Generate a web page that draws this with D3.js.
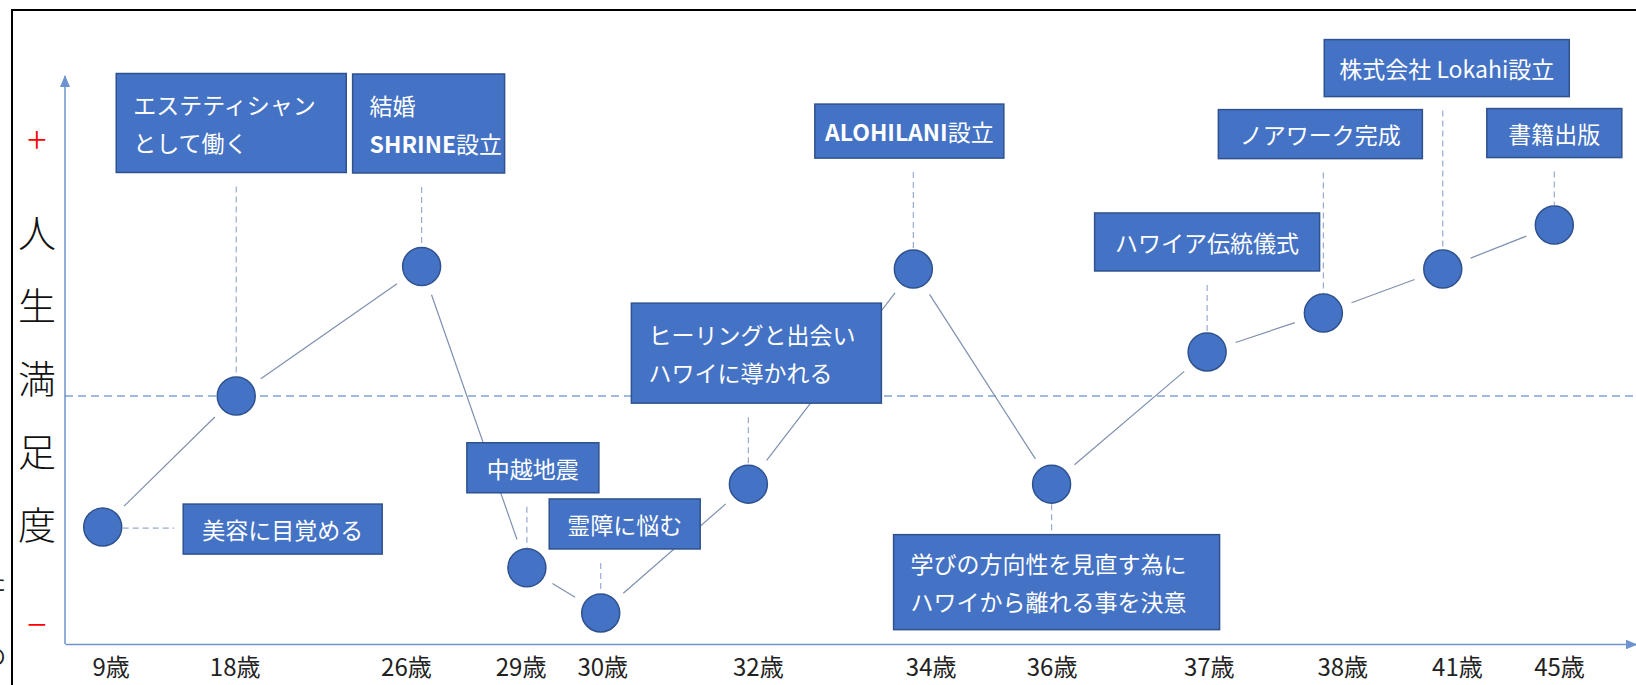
<!DOCTYPE html>
<html>
<head>
<meta charset="utf-8">
<script src="https://cdn.jsdelivr.net/npm/d3@7"></script>
<style>
html, body { margin: 0; padding: 0; background: #fff; overflow: hidden; }
text { font-family: "Noto Sans CJK JP", "Noto Sans", sans-serif; }
</style>
</head>
<body>
<svg id="chart" width="1636" height="685"></svg>
<script>
// ages on the time axis
var ages = ["9歳", "18歳", "26歳", "29歳", "30歳", "32歳", "34歳", "36歳", "37歳", "38歳", "41歳", "45歳"];
// where each event sits along the timeline (0-100 of the axis)
var timeline = [2.4, 10.9, 22.7, 29.4, 34.1, 43.5, 54.0, 62.8, 72.7, 80.1, 87.7, 94.8];
// where the age labels sit along the axis
var labelPos = [2.9, 10.8, 21.7, 29.0, 34.2, 44.1, 55.1, 62.8, 72.8, 81.3, 88.6, 95.1];
// life satisfaction, -100 (−) .. +100 (+)
var satisfaction = [-58, 0, 50, -76, -96, -39, 49, -39, 17, 32, 49, 66];
// what happened
var events = [
  "美容に目覚める",
  "エステティシャン\nとして働く",
  "結婚\nSHRINE設立",
  "中越地震",
  "霊障に悩む",
  "ヒーリングと出会い\nハワイに導かれる",
  "ALOHILANI設立",
  "学びの方向性を見直す為に\nハワイから離れる事を決意",
  "ハワイア伝統儀式",
  "ノアワーク完成",
  "株式会社 Lokahi設立",
  "書籍出版"
];
var yTitle = "人生満足度";

// label box placement relative to its point
var noteLayout = [
  {dx: 180, dy: 2, w: 199, h: 50, side: "right"},
  {dx: -5, dy: -273, w: 230, h: 99},
  {dx: 7, dy: -143, w: 152, h: 99},
  {dx: 6, dy: -100, w: 132, h: 50},
  {dx: 24, dy: -89, w: 151, h: 50},
  {dx: 8, dy: -131, w: 250, h: 100},
  {dx: -4, dy: -138, w: 189, h: 54},
  {dx: 5, dy: 98, w: 326, h: 95, side: "below"},
  {dx: 0, dy: -110, w: 225, h: 58},
  {dx: -3, dy: -179, w: 204, h: 49},
  {dx: 4, dy: -201, w: 245, h: 57},
  {dx: 0, dy: -92, w: 135, h: 49}
];

var svg = d3.select("#chart"),
    width = +svg.attr("width"),
    height = +svg.attr("height"),
    axisY = 644,
    r = 19;

var blue = "#4472C4", edge = "#2F528F", axisColor = "#6C93CF";

var x = d3.scaleLinear().domain([0, 100]).range([65, 1636]);
var y = d3.scaleLinear().domain([-100, 0, 100]).range([622, 396, 137]);

var data = ages.map(function(a, i) {
  return {age: a, t: timeline[i], v: satisfaction[i], label: events[i], note: noteLayout[i]};
});
data.forEach(function(d) { d.px = x(d.t); d.py = y(d.v); });

// frame
svg.append("rect")
    .attr("x", 12).attr("y", 10)
    .attr("width", width + 40).attr("height", height + 40)
    .attr("fill", "none").attr("stroke", "#000").attr("stroke-width", 2);

// cut-off text at the left edge
svg.append("text").attr("x", 6).attr("y", 590).attr("text-anchor", "end")
    .attr("font-size", 22).attr("fill", "#222").text("た");
svg.append("text").attr("x", 6).attr("y", 664).attr("text-anchor", "end")
    .attr("font-size", 22).attr("fill", "#222").text("の");

var defs = svg.append("defs");
defs.append("marker")
    .attr("id", "arrow")
    .attr("markerUnits", "userSpaceOnUse")
    .attr("markerWidth", 12).attr("markerHeight", 10)
    .attr("refX", 11).attr("refY", 5)
    .attr("orient", "auto")
  .append("path")
    .attr("d", "M0,0L12,5L0,10Z")
    .attr("fill", axisColor);

// y axis
svg.append("line")
    .attr("x1", x(0)).attr("x2", x(0))
    .attr("y1", axisY).attr("y2", 76)
    .attr("stroke", axisColor).attr("stroke-width", 1.5)
    .attr("marker-end", "url(#arrow)");

// x axis
var xAxis = svg.append("g")
    .attr("transform", "translate(0," + axisY + ")")
    .call(d3.axisBottom(x)
      .tickValues(labelPos)
      .tickFormat(function(d) { return ages[labelPos.indexOf(d)]; })
      .tickSize(0)
      .tickSizeOuter(0)
      .tickPadding(15));
xAxis.select(".domain")
    .attr("stroke", axisColor).attr("stroke-width", 1.5)
    .attr("marker-end", "url(#arrow)");
xAxis.selectAll(".tick text")
    .attr("font-size", 24)
    .attr("font-family", "'Noto Sans CJK JP', sans-serif")
    .attr("fill", "#222");

// +/- marks
svg.append("text").attr("x", 37).attr("y", y(100))
    .attr("text-anchor", "middle").attr("dominant-baseline", "central")
    .attr("font-size", 36).attr("font-weight", 300).attr("fill", "#FF0000").text("+");
svg.append("text").attr("x", 37).attr("y", y(-100))
    .attr("text-anchor", "middle").attr("dominant-baseline", "central")
    .attr("font-size", 36).attr("font-weight", 300).attr("fill", "#FF0000").text("−");

// y title, one character per row
svg.append("g").selectAll("text")
    .data(yTitle.split(""))
    .enter().append("text")
      .attr("x", 37)
      .attr("y", function(d, i) { return 230 + i * 73; })
      .attr("text-anchor", "middle")
      .attr("dominant-baseline", "central")
      .attr("font-size", 38)
      .attr("font-weight", 300)
      .attr("fill", "#111")
      .text(function(d) { return d; });

// zero line
svg.append("line")
    .attr("x1", x(0)).attr("x2", width)
    .attr("y1", y(0)).attr("y2", y(0))
    .attr("stroke", blue).attr("stroke-width", 1.2)
    .attr("stroke-dasharray", "8,5");

// lines between points, stopping short of the circles
var gap = 30;
var segs = d3.pairs(data).map(function(p) {
  var a = p[0], b = p[1],
      dx = b.px - a.px, dy = b.py - a.py,
      len = Math.sqrt(dx * dx + dy * dy);
  return {
    x1: a.px + dx / len * gap, y1: a.py + dy / len * gap,
    x2: b.px - dx / len * gap, y2: b.py - dy / len * gap
  };
});
svg.append("g").selectAll("line")
    .data(segs)
    .enter().append("line")
      .attr("x1", function(d) { return d.x1; })
      .attr("y1", function(d) { return d.y1; })
      .attr("x2", function(d) { return d.x2; })
      .attr("y2", function(d) { return d.y2; })
      .attr("stroke", "#7E90AE")
      .attr("stroke-width", 1.2);

// dashed leaders from the boxes to the points
svg.append("g").selectAll("line")
    .data(data)
    .enter().append("line")
      .attr("x1", function(d) { return d.note.side === "right" ? d.px + 20 : d.px; })
      .attr("x2", function(d) { return d.note.side === "right" ? d.px + d.note.dx - d.note.w / 2 - 9 : d.px; })
      .attr("y1", function(d) {
        if (d.note.side === "right") return d.py + 1;
        if (d.note.side === "below") return d.py + 20;
        return d.py + d.note.dy + d.note.h / 2 + 14;
      })
      .attr("y2", function(d) {
        if (d.note.side === "right") return d.py + 1;
        if (d.note.side === "below") return d.py + d.note.dy - d.note.h / 2 - 4;
        return d.py - 20;
      })
      .attr("stroke", "#97AAD0")
      .attr("stroke-width", 1.2)
      .attr("stroke-dasharray", "6,4");

// label boxes
var notes = svg.append("g").selectAll("g")
    .data(data)
    .enter().append("g")
      .attr("transform", function(d) {
        return "translate(" + (d.px + d.note.dx) + "," + (d.py + d.note.dy) + ")";
      });

notes.append("rect")
    .attr("x", function(d) { return -d.note.w / 2; })
    .attr("y", function(d) { return -d.note.h / 2; })
    .attr("width", function(d) { return d.note.w; })
    .attr("height", function(d) { return d.note.h; })
    .attr("fill", blue)
    .attr("stroke", edge)
    .attr("stroke-width", 1.5);

notes.each(function(d) {
  var lines = d.label.split("\n"),
      g = d3.select(this),
      multi = lines.length > 1;
  lines.forEach(function(line, i) {
    var t = g.append("text")
        .attr("x", multi ? -d.note.w / 2 + 17 : 0)
        .attr("y", (i - (lines.length - 1) / 2) * 38)
        .attr("text-anchor", multi ? "start" : "middle")
        .attr("dominant-baseline", "central")
        .attr("font-size", 23)
        .attr("fill", "#fff");
    // upper-case latin names are set bold
    line.split(/([A-Z]{3,})/).forEach(function(part) {
      if (!part) return;
      t.append("tspan")
        .attr("font-weight", /^[A-Z]{3,}$/.test(part) ? 700 : 400)
        .text(part);
    });
  });
});

// points
svg.append("g").selectAll("circle")
    .data(data)
    .enter().append("circle")
      .attr("cx", function(d) { return d.px; })
      .attr("cy", function(d) { return d.py; })
      .attr("r", r)
      .attr("fill", blue)
      .attr("stroke", edge)
      .attr("stroke-width", 1.5);
</script>
</body>
</html>
